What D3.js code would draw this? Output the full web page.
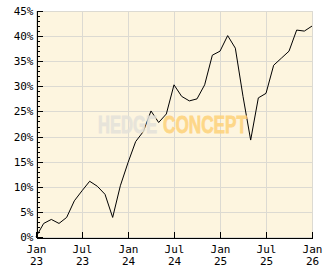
<!DOCTYPE html>
<html>
<head>
<meta charset="utf-8">
<script src="https://cdn.jsdelivr.net/npm/d3@7"></script>
<style>
  body { margin: 0; background: #fff; }
  text { font-family: "DejaVu Sans Mono", monospace; }
</style>
</head>
<body>
<div id="chart"></div>
<script>
// monthly values, Jan 23 .. Jan 26 (percent)
var months = d3.range(0, 37);
var values = [0.0, 2.7, 3.5, 2.7, 3.9, 7.2, 9.2, 11.1, 10.1, 8.5, 3.9, 10.2,
    14.8, 19.0, 21.0, 25.1, 22.8, 24.5, 30.3, 28.0, 27.1, 27.5, 30.3, 36.2,
    37.0, 40.1, 37.6, 28.0, 19.3, 27.7, 28.6, 34.2, 35.6, 37.0, 41.2, 41.0, 42.0];
var xTickIdx = [0, 6, 12, 18, 24, 30, 36];
var xTickMonth = ["Jan", "Jul", "Jan", "Jul", "Jan", "Jul", "Jan"];
var xTickYear = ["23", "23", "24", "24", "25", "25", "26"];
var yTicks = [0, 5, 10, 15, 20, 25, 30, 35, 40, 45];

var width = 332, height = 269;
var margin = { top: 11, right: 20, bottom: 32, left: 36 };

var svg = d3.select("#chart")
    .append("svg")
    .attr("width", width)
    .attr("height", height);

var x = d3.scaleLinear()
    .domain([0, 36])
    .range([margin.left, width - margin.right]);

var y = d3.scaleLinear()
    .domain([0, 45])
    .range([height - margin.bottom, margin.top]);

// plot background
svg.append("rect")
    .attr("x", x(0))
    .attr("y", y(45))
    .attr("width", x(36) - x(0))
    .attr("height", y(0) - y(45))
    .attr("fill", "#fdf5df");

// grid
svg.append("g")
    .selectAll("line.h")
    .data(yTicks)
    .enter()
    .append("line")
    .attr("x1", x(0))
    .attr("x2", x(36))
    .attr("y1", function (d) { return Math.round(y(d)) + 0.5; })
    .attr("y2", function (d) { return Math.round(y(d)) + 0.5; })
    .attr("stroke", "#dcdad2");

svg.append("g")
    .selectAll("line.v")
    .data(xTickIdx)
    .enter()
    .append("line")
    .attr("x1", function (d) { return Math.round(x(d)) + 0.5; })
    .attr("x2", function (d) { return Math.round(x(d)) + 0.5; })
    .attr("y1", y(45))
    .attr("y2", y(0))
    .attr("stroke", "#dcdad2");

// series line
var line = d3.line()
    .x(function (d, i) { return x(months[i]); })
    .y(function (d) { return y(d); });

svg.append("path")
    .datum(values)
    .attr("d", line)
    .attr("fill", "none")
    .attr("stroke", "#000")
    .attr("stroke-width", 1);

// watermark, squeezed to fit its box
function watermark(word, left, boxWidth, colour) {
    var t = svg.append("text")
        .attr("font-weight", "bold")
        .attr("font-size", 24)
        .attr("opacity", 0.85)
        .attr("fill", colour)
        .attr("stroke", colour)
        .attr("stroke-width", 0.8)
        .style("font-family", "'Liberation Sans Narrow', 'Liberation Sans', sans-serif")
        .text(word);
    var w = t.node().getComputedTextLength();
    t.attr("transform", "translate(" + left + ",133) scale(" + (boxWidth / w) + ",1)");
}
watermark("HEDGE", 98, 59, "#e4e2da");
watermark("CONCEPT", 163, 84, "#fdd27a");

// minor y ticks
svg.append("g")
    .attr("transform", "translate(" + (x(0) + 0.5) + ",0)")
    .call(d3.axisLeft(y).tickValues(d3.range(0, 46)).tickSize(-3).tickFormat(""))
    .call(function (g) { g.select(".domain").remove(); });

// y axis
var yAxis = svg.append("g")
    .attr("transform", "translate(" + (x(0) + 0.5) + ",0)")
    .call(d3.axisLeft(y)
        .tickValues(yTicks)
        .tickSizeInner(-6)
        .tickSizeOuter(0)
        .tickPadding(3)
        .tickFormat(function (d) { return d + "%"; }));

// x axis
var xAxis = svg.append("g")
    .attr("transform", "translate(0," + (Math.round(y(0)) + 0.5) + ")")
    .call(d3.axisBottom(x)
        .tickValues(xTickIdx)
        .tickSizeInner(-6)
        .tickSizeOuter(0)
        .tickPadding(8)
        .tickFormat(""));

xAxis.selectAll(".tick text")
    .each(function (d, i) {
        var t = d3.select(this);
        t.append("tspan").attr("x", 0).attr("dy", "0.71em").text(xTickMonth[i]);
        t.append("tspan").attr("x", 0).attr("dy", 12).text(xTickYear[i]);
    })
    .attr("dy", null);

svg.selectAll(".domain, .tick line")
    .attr("stroke", "#000")
    .attr("shape-rendering", "crispEdges");

svg.selectAll(".tick text")
    .attr("fill", "#000")
    .attr("font-size", 11)
    .attr("font-family", "DejaVu Sans Mono, monospace");
</script>
</body>
</html>
